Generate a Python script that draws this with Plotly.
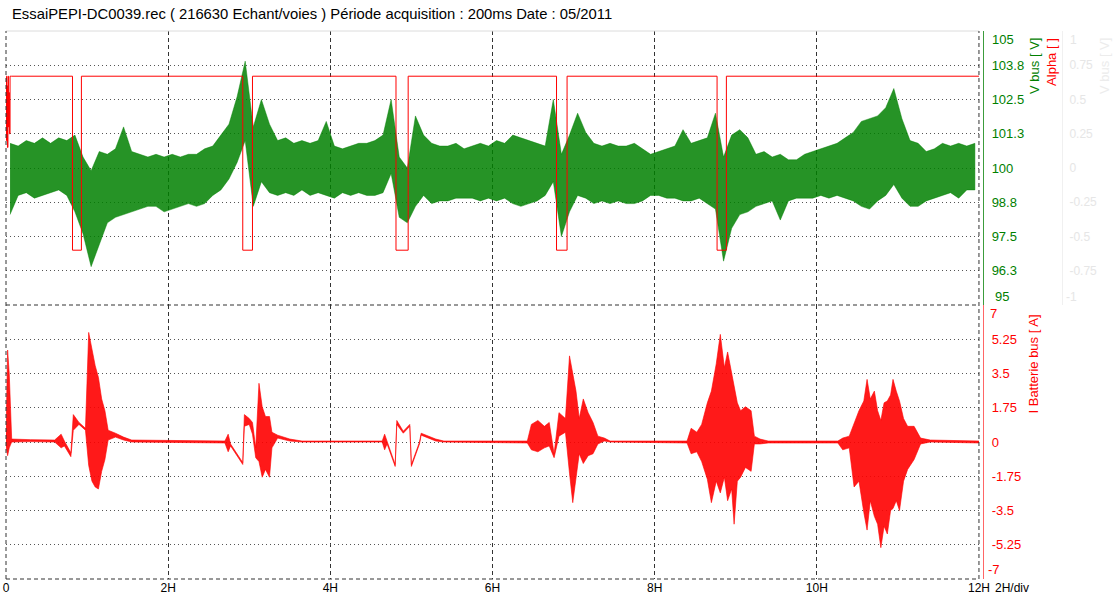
import plotly.graph_objects as go

TITLE = "EssaiPEPI-DC0039.rec ( 216630 Echant/voies ) Période acquisition : 200ms Date : 05/2011"

# ---- axis ticks ----
x_tickvals = [0, 2, 4, 6, 8, 10, 12]
x_ticktext = ["0", "2H", "4H", "6H", "8H", "10H", "12H"]
v_tickvals = [95, 96.25, 97.5, 98.75, 100, 101.25, 102.5, 103.75, 105]
v_ticktext = ["95", "96.3", "97.5", "98.8", "100", "101.3", "102.5", "103.8", "105"]
a_tickvals = [-1, -0.75, -0.5, -0.25, 0, 0.25, 0.5, 0.75, 1]
a_ticktext = ["-1", "-0.75", "-0.5", "-0.25", "0", "0.25", "0.5", "0.75", "1"]
i_tickvals = [-7, -5.25, -3.5, -1.75, 0, 1.75, 3.5, 5.25, 7]
i_ticktext = ["-7", "-5.25", "-3.5", "-1.75", "0", "1.75", "3.5", "5.25", "7"]

# ---- V bus envelope (per 0.1 h bin, hours) ----
vbus_time = [round(0.05 + 0.1 * i, 2) for i in range(120)]
vbus_hi = [100.9, 100.8, 101.0, 100.9, 101.1, 100.9, 101.1, 101.0, 101.2, 100.4,
           99.9, 100.6, 100.5, 100.7, 101.5, 100.6, 100.5, 100.4, 100.5, 100.4,
           100.5, 100.4, 100.5, 100.5, 100.7, 100.8, 101.2, 101.6, 102.6, 103.9,
           101.5, 102.5, 101.6, 101.0, 101.1, 100.9, 101.0, 100.9, 101.0, 101.7,
           100.8, 100.7, 100.8, 100.9, 100.9, 101.0, 101.2, 102.5, 100.4, 100.0,
           101.9, 101.2, 100.9, 100.8, 100.8, 100.9, 100.7, 100.8, 100.9, 100.8,
           101.0, 100.9, 101.2, 101.1, 101.0, 100.9, 100.8, 102.5, 100.5, 101.2,
           102.0, 101.3, 100.9, 100.8, 100.9, 100.8, 100.8, 100.9, 100.7, 100.5,
           100.6, 100.7, 100.8, 101.4, 100.9, 101.0, 101.1, 102.0, 100.4, 101.2,
           101.4, 101.1, 100.5, 100.6, 100.4, 100.5, 100.3, 100.3, 100.5, 100.6,
           100.7, 100.8, 100.9, 101.1, 101.3, 101.7, 101.8, 101.9, 102.2, 102.9,
           101.8, 101.0, 100.9, 100.6, 100.7, 100.9, 100.8, 100.9, 100.8, 100.9]
vbus_lo = [98.3, 99.0, 99.1, 98.9, 99.0, 99.1, 99.2, 99.0, 98.4, 97.6,
           96.4, 97.2, 98.0, 98.2, 98.3, 98.4, 98.5, 98.6, 98.6, 98.4,
           98.5, 98.6, 98.7, 98.6, 98.7, 99.0, 99.2, 99.6, 100.2, 101.0,
           98.6, 99.5, 99.1, 99.0, 99.1, 99.0, 99.2, 99.0, 99.1, 99.0,
           98.9, 99.1, 99.0, 99.1, 99.0, 99.0, 99.1, 99.8, 98.2, 98.0,
           98.6, 99.0, 98.7, 98.8, 98.8, 98.9, 98.9, 98.9, 98.8, 98.9,
           98.8, 98.9, 98.7, 98.6, 98.7, 98.8, 99.0, 99.5, 97.5, 98.4,
           99.0, 98.9, 98.7, 98.8, 98.7, 98.8, 98.7, 98.7, 98.8, 99.0,
           99.0, 98.9, 98.9, 98.8, 98.8, 98.9, 98.7, 98.5, 96.6, 97.8,
           98.3, 98.4, 98.6, 98.7, 98.8, 98.1, 98.8, 98.9, 98.9, 98.9,
           99.0, 98.9, 99.0, 98.9, 98.8, 98.6, 98.5, 98.8, 99.0, 99.4,
           98.9, 98.6, 98.6, 98.8, 98.9, 99.0, 99.1, 98.9, 99.2, 99.2]

# ---- Alpha (step signal) ----
alpha_time = [0, 0.006, 0.012, 0.018, 0.024, 0.03, 0.036, 0.042, 0.05, 0.07,
              0.82, 0.93, 2.92, 3.04, 4.81, 4.96, 6.79, 6.92, 8.77, 8.885, 12]
alpha_val = [0.67, 0.2, 0.6, 0.15, 0.67, 0.3, 0.55, 0.25, 0.67, 0.67,
             -0.6, 0.67, -0.6, 0.67, -0.6, 0.67, -0.6, 0.67, -0.6, 0.67, 0.67]

# ---- I Batterie bus envelope (hours, A) ----
ibat_time = [0.00, 0.02, 0.04, 0.07, 0.30, 0.60, 0.68, 0.72, 0.80, 0.83,
             0.90, 0.98, 1.02, 1.06, 1.10, 1.14, 1.18, 1.22, 1.26, 1.35,
             1.45, 1.55, 2.70, 2.74, 2.77, 2.92, 2.94, 3.00, 3.04, 3.08,
             3.12, 3.16, 3.20, 3.25, 3.28, 3.35, 3.50, 3.65, 4.64, 4.67,
             4.70, 4.80, 4.82, 4.90, 4.98, 5.00, 5.10, 5.12, 5.30, 5.40,
             6.43, 6.48, 6.56, 6.64, 6.70, 6.76, 6.82, 6.90, 6.95, 6.99,
             7.03, 7.07, 7.12, 7.18, 7.24, 7.30, 7.38, 7.45, 8.40, 8.45,
             8.52, 8.58, 8.65, 8.70, 8.76, 8.81, 8.86, 8.90, 8.95, 8.98,
             9.02, 9.06, 9.12, 9.19, 9.23, 9.30, 9.40, 10.26, 10.32, 10.40,
             10.46, 10.52, 10.58, 10.62, 10.66, 10.71, 10.75, 10.79, 10.83, 10.87,
             10.91, 10.94, 10.98, 11.02, 11.07, 11.12, 11.20, 11.28, 11.40, 12.00]
ibat_hi = [0.3, 4.7, 3.5, 0.15, 0.12, 0.1, 0.4, 0.05, -0.55, 1.4,
           1.0, 0.7, 5.6, 4.7, 3.9, 3.3, 2.2, 1.6, 0.6, 0.45,
           0.25, 0.1, 0.05, 0.4, -0.1, -1.05, 1.4, 1.2, 1.0, -0.3,
           3.0, 1.8, 1.3, 1.3, 0.5, 0.35, 0.15, 0.05, 0.05, 0.4,
           0.05, -1.15, 1.1, 0.55, 0.9, -1.15, 0.0, 0.45, 0.15, 0.05,
           0.05, 0.9, 1.1, 0.8, 1.0, -0.6, 1.5, 1.2, 4.4, 3.4,
           2.6, 1.2, 2.2, 1.5, 1.0, 0.3, 0.2, 0.05, 0.05, 0.7,
           0.5, 0.9, 2.0, 2.6, 4.0, 5.5, 3.8, 4.6, 3.5, 3.0,
           2.0, 1.6, 1.8, 1.6, 0.3, 0.15, 0.05, 0.05, 0.2, 0.3,
           1.0, 1.6, 2.1, 3.2, 2.2, 2.6, 1.6, 1.1, 2.0, 2.1,
           2.4, 3.2, 2.6, 2.1, 1.2, 0.8, 0.8, 0.2, 0.1, 0.05]
ibat_lo = [-0.2, -0.7, -0.3, 0.0, 0.02, 0.0, -0.3, -0.2, -0.75, 0.6,
           0.9, 0.6, -1.2, -2.0, -2.3, -2.4, -1.5, -0.9, 0.1, 0.25,
           0.1, 0.0, -0.05, -0.5, -0.2, -1.15, 0.8, 0.9, 0.4, -0.8,
           -1.0, -1.8, -1.4, -1.8, -0.3, 0.2, 0.05, 0.0, 0.0, -0.4,
           -0.1, -1.25, 0.9, 0.45, 0.8, -1.25, -0.1, 0.35, 0.05, 0.0,
           -0.05, -0.4, -0.5, -0.3, -0.2, -0.8, 0.3, 0.5, -1.6, -3.1,
           -1.8, -0.6, -1.1, -0.7, -0.6, -0.1, 0.05, 0.0, -0.05, -0.6,
           -0.5, -1.0, -1.9, -3.1, -2.0, -2.6, -1.8, -3.0, -2.4, -4.2,
           -2.0, -1.8, -1.3, -1.5, -0.1, -0.1, -0.05, -0.05, -0.4, -0.3,
           -2.3, -2.0, -3.6, -4.5, -3.0, -3.8, -4.2, -5.4, -4.3, -4.7,
           -3.5, -3.4, -3.0, -3.5, -2.0, -1.4, -0.9, -0.1, 0.0, -0.05]

GREEN = "#008000"
RED = "#ff0000"


def band(t, hi, lo, xa, ya, fill, edge):
    return go.Scatter(x=list(t) + list(t)[::-1], y=list(hi) + list(lo)[::-1],
                      fill="toself", fillcolor=fill, line=dict(width=1, color=edge),
                      mode="lines", xaxis=xa, yaxis=ya, hoverinfo="skip")


fig = go.Figure()
fig.add_trace(band(vbus_time, vbus_hi, vbus_lo, "x2", "y",
                   "rgba(0,128,0,0.85)", "rgba(0,128,0,0.45)"))
fig.add_trace(go.Scatter(x=alpha_time, y=alpha_val, mode="lines", line_shape="hv",
                         line=dict(color=RED, width=1), xaxis="x2", yaxis="y3"))
fig.add_trace(band(ibat_time, ibat_hi, ibat_lo, "x", "y2",
                   "rgba(255,0,0,0.9)", "rgba(255,0,0,0.6)"))

# plot-area geometry (paper fractions)
XEND = 0.8821
AXPOS = 0.8858


def inner(labels):
    return [""] + list(labels[1:-1]) + [""]


grid_x = dict(showgrid=True, gridcolor="#333333", griddash="4px,3px", gridwidth=1,
              zeroline=False, showline=False, ticks="", range=[0, 12],
              domain=[0, XEND], tickvals=x_tickvals, automargin=False)
grid_y = dict(showgrid=True, gridcolor="#555555", griddash="1px,3px", gridwidth=1,
              zeroline=False, ticks="", anchor="free", position=AXPOS, side="right",
              showline=True, linewidth=1, automargin=False, ticklabelstandoff=5)

fig.update_layout(
    width=1115, height=597,
    margin=dict(l=6, r=6, t=31, b=18, autoexpand=False),
    paper_bgcolor="white", plot_bgcolor="white", showlegend=False,
    font=dict(family="Liberation Sans, Arial, sans-serif", size=12, color="black"),
    xaxis=dict(**grid_x, anchor="y2", ticktext=x_ticktext,
               tickfont=dict(size=12, color="black")),
    xaxis2=dict(**grid_x, anchor="y", matches="x", showticklabels=False),
    yaxis=dict(**grid_y, domain=[0.5, 1], range=[95, 105], tickvals=v_tickvals,
               ticktext=inner(v_ticktext), linecolor="#3c9c3c",
               tickfont=dict(size=13, color=GREEN)),
    yaxis3=dict(overlaying="y", anchor="free", position=0.9574, side="right",
                range=[-1, 1], tickvals=a_tickvals, ticktext=inner(a_ticktext),
                showgrid=False, zeroline=False, showline=True, linecolor="#f0f0f0",
                ticks="", automargin=False, ticklabelstandoff=4,
                tickfont=dict(size=12, color="#e6e6e6")),
    yaxis2=dict(**grid_y, domain=[0, 0.5], range=[-7, 7], tickvals=i_tickvals,
                ticktext=inner(i_ticktext), linecolor="#ff6666",
                tickfont=dict(size=13, color=RED)),
)

shapes = [
    dict(type="line", xref="paper", yref="paper", x0=0, x1=XEND, y0=1, y1=1,
         line=dict(color="#dcdcdc", width=1)),
    dict(type="line", xref="paper", yref="paper", x0=0, x1=XEND, y0=0.5, y1=0.5,
         line=dict(color="#333333", width=1, dash="4px,3px")),
    dict(type="line", xref="paper", yref="paper", x0=0, x1=XEND, y0=0, y1=0,
         line=dict(color="#333333", width=1, dash="4px,3px")),
    dict(type="line", xref="paper", yref="paper", x0=0, x1=0, y0=0, y1=1,
         line=dict(color="#333333", width=1, dash="4px,3px")),
    dict(type="line", xref="paper", yref="paper", x0=XEND, x1=XEND, y0=0, y1=1,
         line=dict(color="#333333", width=1, dash="4px,3px")),
]
fig.update_layout(shapes=shapes)


def lab(text, x, y, color, size=13, anchor="left", angle=0, yanchor="middle"):
    return dict(text=text, xref="paper", yref="paper", x=x, y=y, xanchor=anchor,
                yanchor=yanchor, textangle=angle, showarrow=False,
                font=dict(size=size, color=color))


ann = [
    lab(TITLE, 0.0036, 1.031, "black", size=14.8),
    lab("V bus [ V]", 0.9329, 0.991, GREEN, anchor="center", angle=-90, yanchor="top"),
    lab("Alpha [ ]", 0.9483, 0.991, RED, anchor="center", angle=-90, yanchor="top"),
    lab("V bus [ V]", 0.9964, 0.991, "#ececec", anchor="center", angle=-90, yanchor="top"),
    lab("I Batterie bus [ A]", 0.9311, 0.4854, RED, anchor="center", angle=-90, yanchor="top"),
    lab("2H/div", 0.912, -0.0164, "black", size=12, anchor="center"),
    # end-of-scale labels, pulled inside the panels as in the reference
    lab(v_ticktext[-1], 0.8921, 0.9836, GREEN),
    lab(v_ticktext[0], 0.8948, 0.5146, GREEN),
    lab(i_ticktext[-1], 0.8903, 0.4854, RED),
    lab(i_ticktext[0], 0.8885, 0.0182, RED),
    lab(a_ticktext[-1], 0.9628, 0.9836, "#e6e6e6", size=12),
    lab(a_ticktext[0], 0.9592, 0.5146, "#e6e6e6", size=12),
]
fig.update_layout(annotations=ann)

fig.write_html("out.html", config={"displayModeBar": False},
               post_script="document.body.style.margin='0';")
